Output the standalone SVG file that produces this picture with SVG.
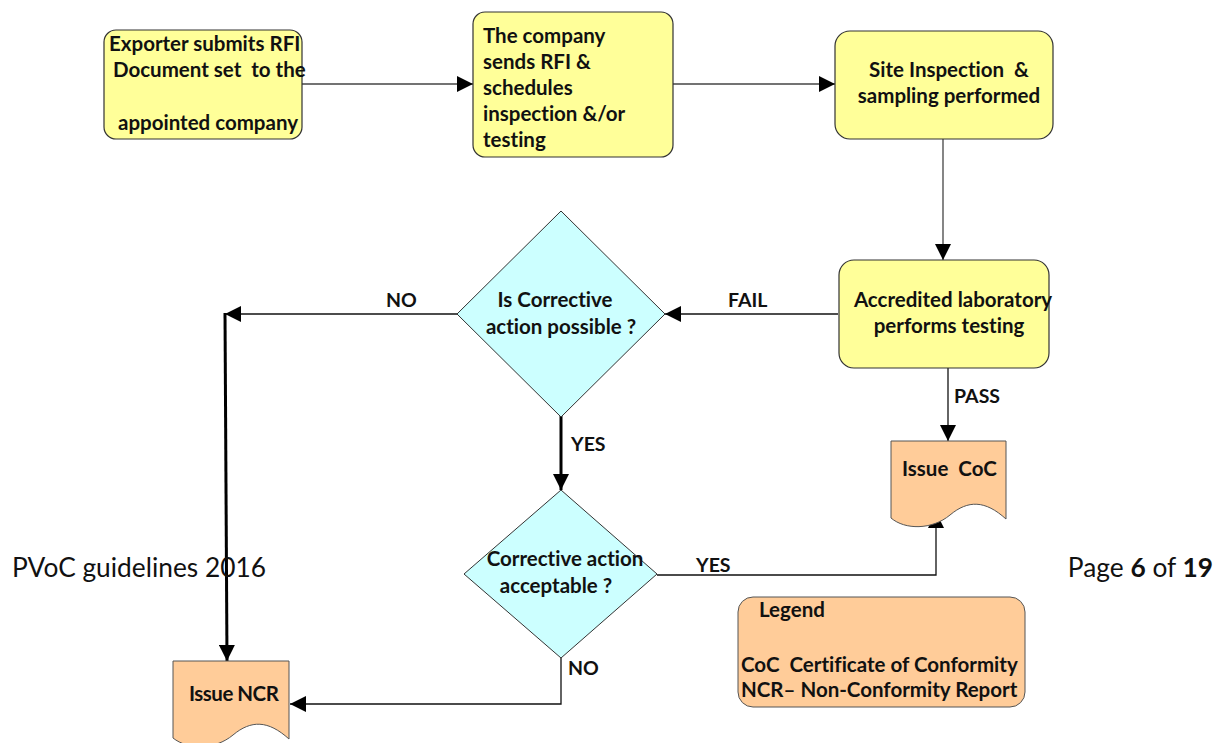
<svg xmlns="http://www.w3.org/2000/svg" width="1226" height="743" viewBox="0 0 1226 743">
<style>
  .box { fill: #FFFF99; stroke: #333; stroke-width: 1.2; }
  .dia { fill: #CCFFFF; stroke: #333; stroke-width: 1; }
  .doc { fill: #FFCC99; stroke: #555; stroke-width: 1; }
  text { white-space: pre; font-variant-ligatures: none; }
  .t { font-family: Lato, "Liberation Sans", sans-serif; font-weight: bold; font-size: 20.5px; fill: #111; }
  .lbl { font-family: Lato, "Liberation Sans", sans-serif; font-weight: bold; font-size: 19.5px; fill: #111; }
  .foot { font-family: Lato, "Liberation Sans", sans-serif; font-size: 26.3px; fill: #111; }
  .thin { fill: none; stroke: #444; stroke-width: 1.3; }
  .dark { fill: none; stroke: #111; stroke-width: 1.3; }
  .thick { fill: none; stroke: #000; stroke-width: 3; }
</style>
<defs>
  <marker id="ah" markerWidth="16" markerHeight="16" refX="16" refY="8" orient="auto" markerUnits="userSpaceOnUse">
    <path d="M0,0 L16,8 L0,16 Z" fill="#000"/>
  </marker>
</defs>
<rect width="1226" height="743" fill="#fff"/>

<g id="connectors">
  <path class="thin" d="M302,84 H473" marker-end="url(#ah)"/>
  <path class="thin" d="M673,84 H835" marker-end="url(#ah)"/>
  <path class="thin" d="M943,139 V260" marker-end="url(#ah)"/>
  <path class="dark" d="M838,314 H665" marker-end="url(#ah)"/>
  <path class="dark" d="M457,314 H225" marker-end="url(#ah)"/>
  <path class="thick" d="M225,313 L227,661" marker-end="url(#ah)"/>
  <path class="thick" d="M561,416 V490" marker-end="url(#ah)"/>
  <path class="dark" d="M948,368 V441" marker-end="url(#ah)"/>
  <path class="dark" d="M657,575 H936 V512" marker-end="url(#ah)"/>
  <path class="dark" d="M561,658 V704 H290" marker-end="url(#ah)"/>
  <text class="lbl" x="386" y="307">NO</text>
  <text class="lbl" x="728" y="307">FAIL</text>
  <text class="lbl" x="571" y="451">YES</text>
  <text class="lbl" x="954" y="403">PASS</text>
  <text class="lbl" x="696" y="572">YES</text>
  <text class="lbl" x="568" y="675">NO</text>
</g>

<g id="n1">
  <rect class="box" x="104" y="30" width="198" height="109" rx="12"/>
  <text class="t" x="109" y="51">Exporter submits RFI</text>
  <text class="t" x="113" y="77">Document set  to the</text>
  <text class="t" x="118" y="130">appointed company</text>
</g>

<g id="n2">
  <rect class="box" x="473" y="12" width="200" height="145" rx="12"/>
  <text class="t" x="483" y="43">The company</text>
  <text class="t" x="483" y="69">sends RFI &amp;</text>
  <text class="t" x="483" y="95">schedules</text>
  <text class="t" x="483" y="121">inspection &amp;/or</text>
  <text class="t" x="483" y="147">testing</text>
</g>

<g id="n3">
  <rect class="box" x="835" y="31" width="218" height="108" rx="15"/>
  <text class="t" x="949" y="77" text-anchor="middle">Site Inspection  &amp;</text>
  <text class="t" x="949" y="103" text-anchor="middle">sampling performed</text>
</g>

<g id="n4">
  <rect class="box" x="839" y="260" width="210" height="108" rx="15"/>
  <text class="t" x="953" y="307" text-anchor="middle">Accredited laboratory</text>
  <text class="t" x="949" y="333" text-anchor="middle">performs testing</text>
</g>

<g id="d1">
  <path class="dia" d="M561,211 L665,314 L561,417 L457,314 Z"/>
  <text class="t" x="555" y="307" text-anchor="middle">Is Corrective</text>
  <text class="t" x="561" y="334" text-anchor="middle">action possible ?</text>
</g>

<g id="d2">
  <path class="dia" d="M561,490 L657,574 L561,658 L464,574 Z"/>
  <text class="t" x="565" y="566" text-anchor="middle">Corrective action</text>
  <text class="t" x="556" y="593" text-anchor="middle">acceptable ?</text>
</g>

<g id="coc">
  <path class="doc" d="M891,441 H1006 V519 C985,500 968,500 950,515 C932,530 905,530 891,518 Z"/>
  <text class="t" x="902" y="476">Issue  CoC</text>
</g>

<g id="ncr">
  <path class="doc" d="M173,661 H289 V739 C268,720 251,720 233,735 C215,750 188,750 173,738 Z"/>
  <text class="t" x="189" y="701" letter-spacing="-0.5">Issue NCR</text>
</g>

<g id="legend">
  <rect class="doc" x="738" y="597" width="287" height="110" rx="15"/>
  <text class="t" x="759" y="617">Legend</text>
  <text class="t" x="741" y="672">CoC  Certificate of Conformity</text>
  <text class="t" x="741" y="697">NCR– Non-Conformity Report</text>
</g>

<g id="footer">
  <text class="foot" x="12" y="577">PVoC guidelines 2016</text>
  <text class="foot" x="1213" y="577" text-anchor="end">Page <tspan font-weight="bold">6</tspan> of <tspan font-weight="bold">19</tspan></text>
</g>
</svg>
